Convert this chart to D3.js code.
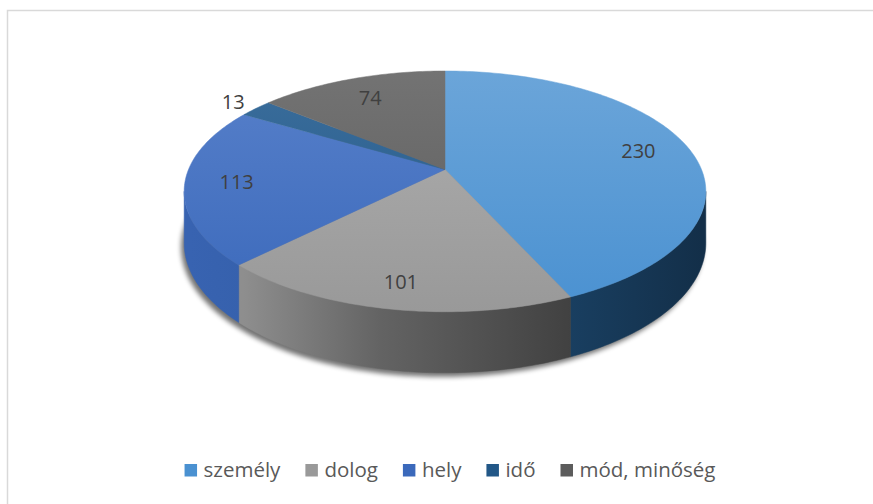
<!DOCTYPE html>
<html>
<head>
<meta charset="utf-8">
<script src="https://d3js.org/d3.v7.min.js"></script>
<style>
  html, body { margin: 0; padding: 0; background: #fff; }
  svg { display: block; }
</style>
</head>
<body>
<div id="chart"></div>
<script>
// data
const categories = ["személy", "dolog", "hely", "idő", "mód, minőség"];
const values = [230, 101, 113, 13, 74];
const colors = ["#5b9bd5", "#a5a5a5", "#4472c4", "#255e91", "#636363"];

const width = 873, height = 504;

// 3D pie geometry (perspective tilt)
const cx = 445, cy = 169.5;      // projected centre of the pie top
const A = 256.5, B = 116.4;      // horizontal / vertical radius factors
const k = 0.1816;                // perspective strength
const depth = 50;                // side height

// project angle (clockwise from 12 o'clock) to screen
function proj(theta, r = 1, drop = 0) {
    const s = Math.sin(theta) * r, c = Math.cos(theta) * r;
    const d = 1 + k * c;
    return [cx + A * s / d, cy + (-B * c + drop * depth) / d];
}

function arcPoints(a0, a1, drop) {
    const n = Math.max(2, Math.ceil(Math.abs(a1 - a0) / (Math.PI / 180)));
    return d3.range(n + 1).map(i => proj(a0 + (a1 - a0) * i / n, 1, drop));
}

const svg = d3.select("#chart").append("svg")
    .attr("width", width)
    .attr("height", height);

const defs = svg.append("defs");

// chart border
svg.append("rect")
    .attr("x", 7.5).attr("y", 10.5)
    .attr("width", width).attr("height", height)
    .attr("fill", "#fff")
    .attr("stroke", "#d9d9d9")
    .attr("stroke-width", 1.5);

const pie = d3.pie().sort(null).value(d => d)(values);
const line = d3.line();

const shade = (c, f) => { const h = d3.hsl(c); h.l *= f; return h.formatHex(); };

// side lighting: brighter on the left, dark on the right
const sideStops = [[0, 0.88], [0.107, 0.86], [0.375, 0.6], [0.736, 0.4], [1, 0.3]];

// gradients
const leftX = cx - A, rightX = cx + A;
colors.forEach((c, i) => {
    const side = defs.append("linearGradient")
        .attr("id", "side" + i)
        .attr("gradientUnits", "userSpaceOnUse")
        .attr("x1", leftX).attr("x2", rightX).attr("y1", 0).attr("y2", 0);
    sideStops.forEach(([o, f]) => side.append("stop").attr("offset", o).attr("stop-color", shade(c, f)));

    const top = defs.append("linearGradient")
        .attr("id", "top" + i)
        .attr("gradientUnits", "userSpaceOnUse")
        .attr("x1", 0).attr("x2", 0).attr("y1", 71).attr("y2", 312);
    top.append("stop").attr("offset", 0).attr("stop-color", d3.interpolateRgb(c, "#fff")(0.1));
    top.append("stop").attr("offset", 1).attr("stop-color", shade(c, 0.93));
});

const blur = defs.append("filter").attr("id", "shadow")
    .attr("x", "-10%").attr("y", "-10%").attr("width", "120%").attr("height", "130%");
blur.append("feGaussianBlur").attr("stdDeviation", 2.5);

// soft shadow under the pie
svg.append("path")
    .attr("d", line(arcPoints(0, 2 * Math.PI, 1)) + "Z")
    .attr("transform", "translate(-3,4)")
    .attr("fill", "#000")
    .attr("opacity", 0.55)
    .attr("filter", "url(#shadow)");

// visible side range
const vs = Math.acos(-k), ve = 2 * Math.PI - Math.acos(-k);

const g = svg.append("g");

pie.forEach((p, i) => {
    const a0 = Math.max(p.startAngle, vs), a1 = Math.min(p.endAngle, ve);
    if (a1 <= a0) return;
    const pts = arcPoints(a0, a1, 0).concat(arcPoints(a1, a0, 1));
    g.append("path")
        .attr("d", line(pts) + "Z")
        .attr("fill", `url(#side${i})`)
        .attr("stroke", `url(#side${i})`)
        .attr("stroke-width", 0.5);
});

pie.forEach((p, i) => {
    const pts = [[cx, cy]].concat(arcPoints(p.startAngle, p.endAngle, 0));
    g.append("path")
        .attr("d", line(pts) + "Z")
        .attr("fill", `url(#top${i})`)
        .attr("stroke", `url(#top${i})`)
        .attr("stroke-width", 0.5);
});

// data labels
const total = d3.sum(values);
pie.forEach((p, i) => {
    const mid = (p.startAngle + p.endAngle) / 2;
    const edge = proj(mid);
    const f = p.value / total < 0.05 ? 1.12 : 0.8;
    svg.append("text")
        .attr("x", cx + (edge[0] - cx) * f)
        .attr("y", cy + (edge[1] - cy) * f)
        .attr("text-anchor", "middle")
        .attr("dominant-baseline", "central")
        .attr("font-family", "'Open Sans', sans-serif")
        .attr("font-size", 20)
        .attr("fill", "#404040")
        .text(p.value);
});

// legend
const legend = svg.append("g");
let xPos = 0;
categories.forEach((name, i) => {
    const item = legend.append("g").attr("transform", `translate(${xPos},0)`);
    item.append("rect")
        .attr("x", 0).attr("y", 464)
        .attr("width", 12.5).attr("height", 12.5)
        .attr("fill", `url(#top${i})`);
    const t = item.append("text")
        .attr("x", 19).attr("y", 476.5)
        .attr("font-family", "'Open Sans', sans-serif")
        .attr("font-size", 20.5)
        .attr("fill", "#595959")
        .text(name);
    xPos += 19 + t.node().getComputedTextLength() + 25;
});
const legendWidth = xPos - 25;
legend.attr("transform", `translate(${450 - legendWidth / 2},0)`);
</script>
</body>
</html>
